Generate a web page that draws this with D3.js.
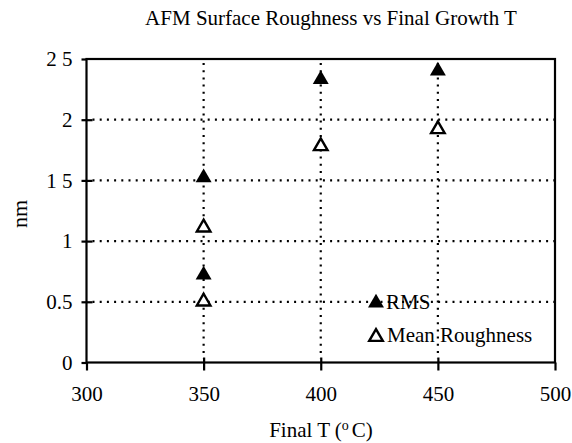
<!DOCTYPE html>
<html>
<head>
<meta charset="utf-8">
<script src="https://cdn.jsdelivr.net/npm/d3@7"></script>
<style>
  html, body { margin: 0; padding: 0; background: #fff; }
  svg { display: block; }
  svg text { font-family: "Liberation Serif", "Times New Roman", serif !important; fill: #000; }
</style>
</head>
<body>
<svg id="chart" width="572" height="443"></svg>
<script>
// Final growth temperature (°C) for each sample
const temps = [350, 350, 400, 450];
// RMS roughness (nm)
const rmsValues = [1.53, 0.73, 2.34, 2.41];
// Mean roughness (nm)
const meanValues = [1.12, 0.51, 1.79, 1.93];

const xTicks = [300, 350, 400, 450, 500];
const yTicks = [0, 0.5, 1, 1.5, 2, 2.5];
const yTickLabels = ["0", "0.5", "1", "1 5", "2", "2 5"];
const xGrid = [350, 400, 450];
const yGrid = [0.5, 1, 1.5, 2];

const svg = d3.select("#chart");
const x = d3.scaleLinear().domain([300, 500]).range([86.5, 555]);
const y = d3.scaleLinear().domain([0, 2.5]).range([362.5, 59]);

const [x0, x1] = x.range();
const [y0, y1] = y.range();

// dotted grid
const grid = svg.append("g")
  .attr("stroke", "#000").attr("stroke-width", 2.2)
  .attr("stroke-dasharray", "2 5.2").attr("fill", "none");
grid.selectAll("line.h").data(yGrid).join("line").attr("class", "h")
  .attr("x1", x0 + 6).attr("x2", x1).attr("y1", d => y(d)).attr("y2", d => y(d));
grid.selectAll("line.v").data(xGrid).join("line").attr("class", "v")
  .attr("x1", d => x(d)).attr("x2", d => x(d)).attr("y1", y1 + 4).attr("y2", y0 - 4);

// frame
svg.append("rect")
  .attr("x", x0).attr("y", y1).attr("width", x1 - x0).attr("height", y0 - y1)
  .attr("fill", "none").attr("stroke", "#000").attr("stroke-width", 2.2);

// y axis
const yAxis = d3.axisLeft(y).tickValues(yTicks).tickSize(0).tickPadding(14)
  .tickFormat((d, i) => yTickLabels[i]);
const gy = svg.append("g").attr("transform", `translate(${x0},0)`).call(yAxis)
  .attr("font-family", null).attr("font-size", 21);
gy.select(".domain").remove();
gy.selectAll(".tick").append("line")
  .attr("x1", -5).attr("x2", d => (d === 0 || d === 2.5) ? 0 : 6)
  .attr("stroke", "#000").attr("stroke-width", 2.2);

// x axis
const xAxis = d3.axisBottom(x).tickValues(xTicks).tickSize(0).tickPadding(24);
const gx = svg.append("g").attr("transform", `translate(0,${y0})`).call(xAxis)
  .attr("font-family", null).attr("font-size", 21);
gx.select(".domain").remove();
gx.selectAll(".tick").append("line")
  .attr("y1", d => (d === 300 || d === 500) ? 0 : -5).attr("y2", 8)
  .attr("stroke", "#000").attr("stroke-width", 2.2);

// markers
const filledTri = d3.symbol().type(d3.symbolTriangle).size(110);
const openTri = d3.symbol().type(d3.symbolTriangle).size(80);
svg.append("g").selectAll("path").data(temps.map((t, i) => [t, rmsValues[i]])).join("path")
  .attr("d", filledTri).attr("transform", d => `translate(${x(d[0])},${y(d[1]) + 1})`)
  .attr("fill", "#000");
svg.append("g").selectAll("path").data(temps.map((t, i) => [t, meanValues[i]])).join("path")
  .attr("d", openTri)
  .attr("transform", d => `translate(${x(d[0])},${y(d[1]) + 1})`)
  .attr("fill", "#fff").attr("stroke", "#000").attr("stroke-width", 2.4);

// legend
const legend = svg.append("g");
legend.append("path").attr("d", filledTri).attr("transform", "translate(376,303)").attr("fill", "#000");
legend.append("text").attr("x", 386).attr("y", 309).attr("font-size", 21).text("RMS");
legend.append("path").attr("d", openTri)
  .attr("transform", "translate(376,337)").attr("fill", "#fff").attr("stroke", "#000").attr("stroke-width", 2.4);
legend.append("text").attr("x", 387).attr("y", 342).attr("font-size", 21).text("Mean Roughness");

// title
svg.append("text").attr("x", 331).attr("y", 25).attr("text-anchor", "middle")
  .attr("font-size", 21).text("AFM Surface Roughness vs Final Growth T");

// axis titles
const xt = svg.append("text").attr("x", 321).attr("y", 437).attr("text-anchor", "middle").attr("font-size", 21);
xt.append("tspan").text("Final T (");
xt.append("tspan").attr("font-size", 14).attr("dy", -7).text("o");
xt.append("tspan").attr("dy", 7).attr("dx", 3).text("C)");

svg.append("text").attr("transform", "translate(27,214) rotate(-90)")
  .attr("text-anchor", "middle").attr("font-size", 22).text("nm");
</script>
</body>
</html>
